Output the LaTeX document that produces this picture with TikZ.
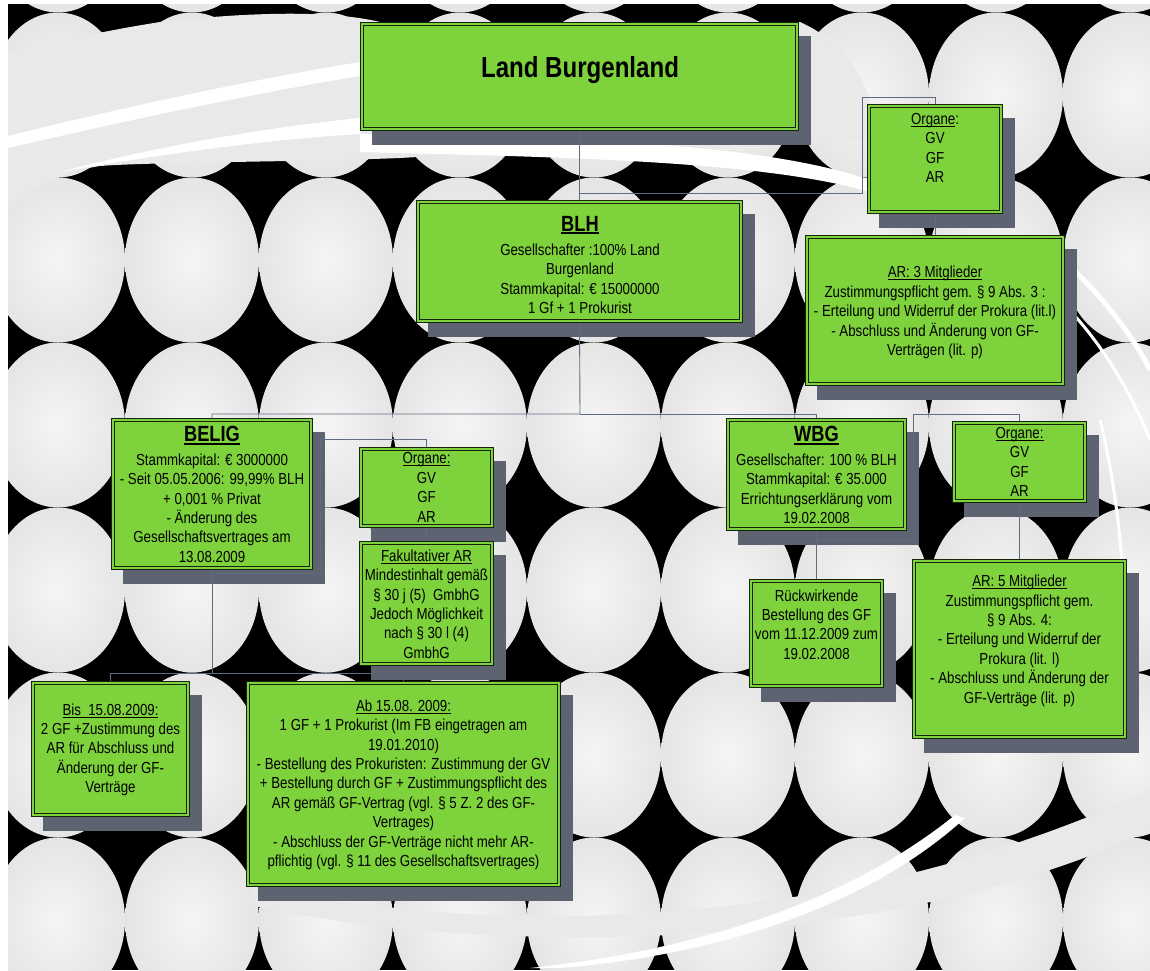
\documentclass[tikz,border=0pt]{standalone}
\usepackage{fontspec}
\setmainfont{Liberation Sans}[FakeStretch=0.83]
\usetikzlibrary{calc}
\definecolor{boxgreen}{RGB}{126,210,59}
\definecolor{boxedge}{RGB}{22,36,14}
\definecolor{shadowc}{RGB}{93,99,112}
\definecolor{connc}{RGB}{95,107,128}
\definecolor{ballc}{RGB}{229,229,229}
\definecolor{ballin}{RGB}{245,245,245}
\definecolor{bandc}{RGB}{233,233,233}
\newsavebox\ulsave
\newcommand{\ulbox}[3]{\leavevmode\sbox\ulsave{#1}\rlap{\usebox\ulsave}\rule[#2]{\wd\ulsave}{#3}}
\newcommand{\boxtitle}[1]{{\fontsize{22}{24}\selectfont\bfseries\ulbox{#1}{-3pt}{2pt}}}
\newcommand{\ulbody}[1]{\ulbox{#1}{-2.3pt}{0.8pt}}
\pgfdeclarelayer{pat}
\pgfdeclarelayer{low}
\pgfdeclarelayer{shd}
\pgfdeclarelayer{lin}
\pgfsetlayers{pat,low,shd,lin,main}
\tikzset{
  box/.style={draw=boxedge, double=boxgreen, double distance=2.2pt, line width=1pt, fill=boxgreen, inner sep=0pt, rectangle},
  txt/.style={font=\fontsize{16}{19.4}\selectfont, align=center, inner sep=0pt, text=black},
  conn/.style={draw=connc, line width=0.9pt},
  ball/.style={inner color=ballin, outer color=ballc},
}
% name, x1, y1, x2, y2
\newcommand{\obox}[5]{%
  \node[box, minimum width={#4-#2-4.2}, minimum height={#5-#3-4.2}] (#1) at ({(#2+#4)/2},{(#3+#5)/2}) {};
  \begin{pgfonlayer}{shd}
    \fill[shadowc] ({#2+11.5},{#3+14}) rectangle ({#4+11.5},{#5+14});
  \end{pgfonlayer}}
\begin{document}
\begin{tikzpicture}[x=1pt,y=-1pt]
\useasboundingbox (0,0) rectangle (1150,970);
\begin{pgfonlayer}{pat}
  \fill[white] (0,0) rectangle (1150,970);
  \fill[black] (8,4) rectangle (1150,970);
  \begin{scope}
    \clip (8,4) rectangle (1150,970);
    \foreach \i in {-1,...,9} {
      \foreach \j in {-1,...,6} {
        \shade[ball] ({58+134*\i},{95+165*\j}) ellipse [x radius=67, y radius=82.5];
      }
    }
    % swirl band, top
    \fill[bandc] (8,55) .. controls (60,40) and (110,30) .. (160,22)
      .. controls (250,12) and (330,10) .. (380,22) -- (800,22)
      .. controls (840,40) and (860,70) .. (870,100) -- (870,140)
      .. controls (700,148) and (500,152) .. (400,158)
      .. controls (300,162) and (150,162) .. (100,166)
      .. controls (60,172) and (30,190) .. (8,210) -- cycle;
    \fill[white] (8,136) .. controls (120,108) and (250,80) .. (360,62) -- (360,76)
      .. controls (250,94) and (120,122) .. (8,148) -- cycle;
    \fill[white] (60,172) .. controls (150,148) and (260,128) .. (360,118) -- (360,134)
      .. controls (260,140) and (150,156) .. (60,172) -- cycle;
    \fill[white] (360,134) .. controls (550,136) and (760,142) .. (870,180) -- (870,192)
      .. controls (760,160) and (550,157) .. (360,152) -- cycle;
    % swirl, right side
    \draw[white, line width=5] (1045,245) .. controls (1090,280) and (1130,330) .. (1150,370);
    \draw[white, line width=3] (1060,300) .. controls (1100,340) and (1130,390) .. (1150,440);
    \draw[white, line width=3] (1100,420) .. controls (1115,480) and (1125,560) .. (1125,640);
    % swirl, bottom
    \fill[bandc] (250,885) .. controls (500,940) and (850,930) .. (1150,790) -- (1150,830)
      .. controls (900,950) and (500,960) .. (250,905) -- cycle;
    \fill[white] (955,815) .. controls (850,900) and (700,950) .. (530,968) -- (560,968)
      .. controls (720,955) and (870,905) .. (965,818) -- cycle;
  \end{scope}
\end{pgfonlayer}

% boxes
\obox{land}{360}{22}{799}{131}
\obox{blh}{416}{200}{743}{323}
\obox{org1}{867}{104}{1003}{214}
\obox{ar3}{805}{235}{1065}{386}
\obox{belig}{111}{418}{313}{570}
\obox{org2}{359}{447}{494}{528}
\obox{fak}{359}{541}{494}{666}
\obox{wbg}{726}{418}{907}{531}
\obox{org3}{952}{421}{1087}{503}
\obox{rueck}{749}{579}{884}{688}
\obox{ar5}{912}{559}{1127}{739}
\obox{bis}{31}{681}{190}{817}
\obox{ab}{246}{681}{561}{887}

% texts
\node[font=\fontsize{29}{32}\selectfont\bfseries, inner sep=0pt] (land-t) at (580,70.5) {Land Burgenland};
\node[txt] (blh-t) at (580,265) {\boxtitle{BLH}\\[5pt] Gesellschafter :100\% Land\\ Burgenland\\ Stammkapital: € 15000000\\ 1 Gf + 1 Prokurist};
\node[txt] (org1-t) at (935,148) {\ulbody{Organe}:\\ GV\\ GF\\ AR};
\node[txt] (ar3-t) at (935,312.5) {\ulbody{AR: 3 Mitglieder}\\ Zustimmungspflicht gem. § 9 Abs. 3 :\\ - Erteilung und Widerruf der Prokura (lit.l)\\ - Abschluss und Änderung von GF-\\ Verträgen (lit. p)};
\node[txt] (belig-t) at (212,494.5) {\boxtitle{BELIG}\\[4pt] Stammkapital: € 3000000\\ - Seit 05.05.2006: 99,99\% BLH\\ + 0,001 \% Privat\\ - Änderung des\\ Gesellschaftsvertrages am\\ 13.08.2009};
\node[txt] (org2-t) at (426.5,487.5) {\ulbody{Organe:}\\ GV\\ GF\\ AR};
\node[txt] (fak-t) at (426.5,604) {\ulbody{Fakultativer AR}\\ Mindestinhalt gemäß\\ § 30 j (5)\ \ GmbhG\\ Jedoch Möglichkeit\\ nach § 30 l (4)\\ GmbhG};
\node[txt] (wbg-t) at (816.5,475) {\boxtitle{WBG}\\[4pt] Gesellschafter: 100 \% BLH\\ Stammkapital: € 35.000\\ Errichtungserklärung vom\\ 19.02.2008};
\node[txt] (org3-t) at (1019.5,462) {\ulbody{Organe:}\\ GV\\ GF\\ AR};
\node[txt] (rueck-t) at (816.5,624.5) {Rückwirkende\\ Bestellung des GF\\ vom 11.12.2009 zum\\ 19.02.2008};
\node[txt] (ar5-t) at (1019.5,640.7) {\ulbody{AR: 5 Mitglieder}\\ Zustimmungspflicht gem.\\ § 9 Abs. 4:\\ - Erteilung und Widerruf der\\ Prokura (lit. l)\\ - Abschluss und Änderung der\\ GF-Verträge (lit. p)};
\node[txt] (bis-t) at (110.5,749.7) {\ulbody{Bis\ \ 15.08.2009:}\\ 2 GF +Zustimmung des\\ AR für Abschluss und\\ Änderung der GF-\\ Verträge};
\node[txt] (ab-t) at (403.5,784.7) {\ulbody{Ab 15.08. 2009:}\\ 1 GF + 1 Prokurist (Im FB eingetragen am\\ 19.01.2010)\\ - Bestellung des Prokuristen: Zustimmung der GV\\ + Bestellung durch GF + Zustimmungspflicht des\\ AR gemäß GF-Vertrag (vgl. § 5 Z. 2 des GF-\\ Vertrages)\\ - Abschluss der GF-Verträge nicht mehr AR-\\ pflichtig (vgl. § 11 des Gesellschaftsvertrages)};

% connectors
\coordinate (c1) at (862,193);
\coordinate (c2) at (862,97);
\coordinate (bus) at (580,414);
\coordinate (k1) at (913,414);
\coordinate (k2) at (913,540);
\coordinate (m1) at (320,439);
\coordinate (m2) at (320,573);
\coordinate (n1) at (212,673);
\begin{pgfonlayer}{lin}
  \draw[conn] (land.south) -- (blh.north);
  \draw[conn] (c1 -| blh.north) -- (c1) -- (c2) -| (org1.north);
  \draw[conn] (org1.south) -- (ar3.north);
  \draw[conn] (blh.south) -- (bus) -| (belig.north);
  \draw[conn] (bus) -| (wbg.north);
  \draw[conn] (org3.north) |- (k1) -- (k2) -- (k2 -| wbg.south);
  \draw[conn] (wbg.south) -- (rueck.north);
  \draw[conn] (org3.south) -- (ar5.north);
  \draw[conn] (org2.north) |- (m1) -- (m2) -- (m2 -| belig.south);
  \draw[conn] (org2.south) -- (fak.north);
  \draw[conn] (belig.south) -- (n1) -| (bis.north);
\end{pgfonlayer}
\begin{pgfonlayer}{low}
  \draw[conn] (n1) -| (ab.north);
\end{pgfonlayer}
\end{tikzpicture}
\end{document}
